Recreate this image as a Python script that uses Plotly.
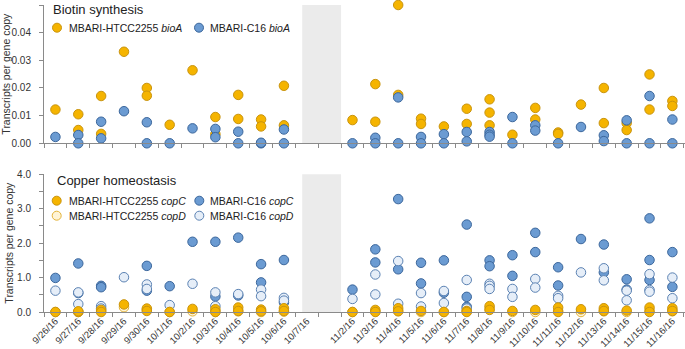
import plotly.graph_objects as go

# ---------------- data ----------------
tick_labels = ["9/26/16", "9/27/16", "9/28/16", "9/29/16", "9/30/16", "10/1/16",
               "10/2/16", "10/3/16", "10/4/16", "10/5/16", "10/6/16", "10/7/16", "",
               "11/2/16", "11/3/16", "11/4/16", "11/5/16", "11/6/16", "11/7/16",
               "11/8/16", "11/9/16", "11/10/16", "11/11/16", "11/12/16", "11/13/16",
               "11/14/16", "11/15/16", "11/16/16"]

# Biotin synthesis (transcripts per gene copy), one list per date
htcc_bioA = [[0.0122], [0.0105, 0.0048], [0.0171, 0.0034], [0.0331], [0.0200, 0.0172],
             [0.0067], [0.0264], [0.0095, 0.0033], [0.0175, 0.0088], [0.0086, 0.0061],
             [0.0208, 0.0065], [], [],
             [0.0084], [0.0214, 0.0078], [0.0500, 0.0175], [0.0089, 0.0070], [0.0061],
             [0.0125, 0.0070], [0.0159, 0.0111, 0.0065], [0.0031], [0.0128, 0.0086],
             [0.0039, 0.0034], [0.0140], [0.0200, 0.0073], [0.0073, 0.0048],
             [0.0249, 0.0122], [0.0153, 0.0135]]
c16_bioA = [[0.0023], [0.0030, 0.0], [0.0078, 0.0018], [0.0116], [0.0076, 0.0],
            [0.0], [0.0054], [0.0052, 0.0022], [0.0042, 0.0], [0.0, 0.0002],
            [0.0050, 0.0], [], [],
            [0.0], [0.0020, 0.0], [0.0166, 0.0], [0.0023, 0.0], [0.0033, 0.0],
            [0.0041, 0.0007], [0.0041, 0.0031, 0.0024], [0.0095, 0.0], [0.0065, 0.0046],
            [0.0], [0.0059], [0.0029, 0.0008], [0.0083, 0.0],
            [0.0171, 0.0], [0.0086, 0.0]]

# Copper homeostasis
htcc_copC = [[0.0], [0.0, 0.02], [0.06, 0.0], [0.22], [0.10, 0.03], [0.0], [0.09],
             [0.08, 0.0], [0.13, 0.03], [0.07, 0.02], [0.11, 0.03], [], [],
             [0.0], [0.06, 0.0], [0.11, 0.02], [0.03], [0.0], [0.03, 0.0], [0.17, 0.06],
             [0.03], [0.06], [0.13, 0.0], [0.08], [0.11, 0.03], [0.04], [0.13, 0.0],
             [0.11, 0.03]]
htcc_copD = [[0.0], [0.0], [0.03], [0.14], [0.06], [0.0], [0.02], [0.0], [0.02], [0.0],
             [0.01], [], [],
             [0.0], [0.01], [0.03], [0.0], [0.0], [0.01], [0.10], [0.0], [0.0], [0.03],
             [0.0], [0.02], [0.0], [0.04], [0.02]]
c16_copC = [[0.99], [1.41, 0.55], [0.76, 0.72], [], [1.34, 0.62], [0.75], [2.04],
            [2.04, 0.45], [2.16, 0.48], [1.39, 0.86], [1.51, 0.28], [], [],
            [0.65], [1.82, 1.44], [3.28, 1.24], [1.43, 0.83], [1.50, 0.56],
            [2.54, 0.44, 0.15], [1.50, 1.33], [1.65, 1.05], [2.30, 1.74], [1.30, 0.77],
            [2.12], [1.96, 1.15], [0.95, 0.65], [2.72, 1.51, 0.93], [1.74, 0.73]]
c16_copD = [[0.62], [0.57, 0.23], [0.17, 0.10], [1.01], [0.80, 0.67], [0.20], [0.82],
            [0.57, 0.17], [0.52], [0.65, 0.46], [0.41, 0.33], [], [],
            [0.38], [1.09, 0.51], [1.48, 0.24], [0.55, 0.16], [0.61, 0.26], [0.93, 0.10],
            [0.82, 0.76, 0.67], [0.67, 0.44], [0.96, 0.71], [0.47, 0.40], [1.15],
            [1.27, 0.92], [0.62, 0.34], [1.10, 0.64, 0.59], [1.00, 0.40]]

gap_start, gap_end = 10.8, 12.5  # shaded period (category units)

# ---------------- style ----------------
FONT = "Liberation Sans, Arial, Helvetica, sans-serif"
YEL, YEL_LINE = "#F5B400", "#C9940E"
YEL_OPEN, YEL_OPEN_LINE = "#FFF4D6", "#E3B33A"
BLU, BLU_LINE = "#6B9BD2", "#3C679C"
LBL, LBL_LINE = "#E6EEF8", "#5B82B3"
AXC = "#8a8a8a"
MS = 9.5

W, H = 685, 349
ML, MR, MT, MB = 44, 0, 5, 37
PW, PH = W - ML - MR, H - MT - MB


def flat(series):
    xs, ys = [], []
    for i, vals in enumerate(series):
        for v in vals:
            xs.append(i)
            ys.append(v)
    return xs, ys


def add(series, fill, line, xa, ya, name):
    xs, ys = flat(series)
    fig.add_trace(go.Scatter(x=xs, y=ys, mode="markers", name=name, xaxis=xa, yaxis=ya,
                             cliponaxis=False, showlegend=False,
                             marker=dict(size=MS, color=fill, line=dict(color=line, width=1))))


fig = go.Figure()
add(htcc_bioA, YEL, YEL_LINE, "x", "y", "MBARI-HTCC2255 bioA")
add(c16_bioA, BLU, BLU_LINE, "x", "y", "MBARI-C16 bioA")
add(c16_copC, BLU, BLU_LINE, "x2", "y2", "MBARI-C16 copC")
add(c16_copD, LBL, LBL_LINE, "x2", "y2", "MBARI-C16 copD")
add(htcc_copD, YEL_OPEN, YEL_OPEN_LINE, "x2", "y2", "MBARI-HTCC2255 copD")
add(htcc_copC, YEL, YEL_LINE, "x2", "y2", "MBARI-HTCC2255 copC")

n = len(tick_labels)
xrange = [-0.5, -0.5 + PW / 22.85]
top_dom = [(H - MB - 143.3) / PH, 1.0]
bot_dom = [0.0, (H - MB - 174.3) / PH]

xcommon = dict(range=xrange, showline=True, linecolor=AXC, linewidth=1, showgrid=False,
               zeroline=False, ticks="", ticklen=0, tickmode="array",
               tickvals=list(range(n)), automargin=False,
               minor=dict(tickmode="array", tickvals=[i - 0.5 for i in range(n + 1)],
                          ticks="outside", ticklen=4, tickcolor=AXC, tickwidth=1, showgrid=False))
ycommon = dict(showline=True, linecolor=AXC, linewidth=1, showgrid=False, zeroline=False,
               ticks="outside", ticklen=4, tickcolor=AXC, tickwidth=1, automargin=False,
               ticklabelstandoff=6,
               tickfont=dict(family=FONT, size=10, color="#333"),
               title=dict(text="Transcripts per gene copy", standoff=1,
                          font=dict(family=FONT, size=10.5, color="#333")))

fig.update_layout(
    width=W, height=H,
    margin=dict(l=ML, r=MR, t=MT, b=MB, pad=0, autoexpand=False),
    plot_bgcolor="white", paper_bgcolor="white", showlegend=False,
    font=dict(family=FONT, color="#333"),
    xaxis=dict(xcommon, anchor="y", domain=[0, 1], showticklabels=False,
               ticktext=tick_labels),
    xaxis2=dict(xcommon, anchor="y2", domain=[0, 1], ticktext=tick_labels, tickangle=-45,
                ticklabelstandoff=-1,
                tickfont=dict(family=FONT, size=9.5, color="#333")),
    yaxis=dict(ycommon, anchor="x", domain=top_dom, range=[0, 0.05], tickmode="array",
               tickvals=[0, 0.01, 0.02, 0.03, 0.04, 0.05], tickformat=".2f"),
    yaxis2=dict(ycommon, anchor="x2", domain=bot_dom, range=[0, 4], tickmode="array",
                tickvals=[0, 1, 2, 3, 4], tickformat=".1f",
                minor=dict(tickmode="array", tickvals=[0.5, 1.5, 2.5, 3.5], ticks="outside",
                           ticklen=4, tickcolor=AXC, tickwidth=1, showgrid=False)),
)

# shaded gap period
for ya in ("y", "y2"):
    fig.add_shape(type="rect", xref="x" if ya == "y" else "x2", yref=f"{ya} domain",
                  x0=gap_start, x1=gap_end, y0=0, y1=1, fillcolor="#EBEBEB",
                  line=dict(width=0), layer="below")


def px(xp):
    return (xp - ML) / PW


def py(yp):
    return (H - MB - yp) / PH


def legend_item(xm, ym, xt, fill, line, text):
    fig.add_shape(type="circle", xref="paper", yref="paper", xsizemode="pixel",
                  ysizemode="pixel", xanchor=px(xm), yanchor=py(ym),
                  x0=-4.5, x1=4.5, y0=-4.5, y1=4.5, fillcolor=fill,
                  line=dict(color=line, width=1))
    fig.add_annotation(xref="paper", yref="paper", x=px(xt), y=py(ym), text=text,
                       showarrow=False, xanchor="left", yanchor="middle",
                       font=dict(family=FONT, size=10.5, color="#222"))


def heading(xt, yt, text):
    fig.add_annotation(xref="paper", yref="paper", x=px(xt), y=py(yt), text=text,
                       showarrow=False, xanchor="left", yanchor="middle",
                       font=dict(family=FONT, size=13, color="#222"))


heading(51, 9, "Biotin synthesis")
legend_item(57, 27.7, 67, YEL, YEL_LINE, "MBARI-HTCC2255 <i>bioA</i>")
legend_item(199, 27.7, 208, BLU, BLU_LINE, "MBARI-C16 <i>bioA</i>")

heading(55, 180, "Copper homeostasis")
legend_item(56.7, 200.7, 67, YEL, YEL_LINE, "MBARI-HTCC2255 <i>copC</i>")
legend_item(199.3, 200.7, 208, BLU, BLU_LINE, "MBARI-C16 <i>copC</i>")
legend_item(56.7, 215.7, 67, YEL_OPEN, YEL_OPEN_LINE, "MBARI-HTCC2255 <i>copD</i>")
legend_item(199.3, 215.7, 208, LBL, LBL_LINE, "MBARI-C16 <i>copD</i>")

# page body has a default margin; remove it so the figure fills the window exactly
fig.write_html("out.html", config={"displayModeBar": False},
               post_script="document.body.style.margin='0';document.body.style.overflow='hidden';")
